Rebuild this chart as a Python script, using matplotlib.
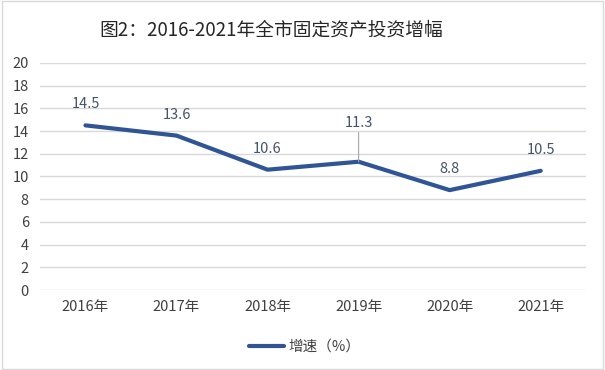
import matplotlib
matplotlib.use("Agg")
import matplotlib.pyplot as plt
from matplotlib.patches import Rectangle

plt.rcParams['font.family'] = ['Noto Sans CJK SC', 'DejaVu Sans']

years = ["2016年", "2017年", "2018年", "2019年", "2020年", "2021年"]
growth = [14.5, 13.6, 10.6, 11.3, 8.8, 10.5]
yticks = list(range(0, 22, 2))
title = "图2：2016-2021年全市固定资产投资增幅"
legend_label = "增速（%）"

fig = plt.figure(figsize=(6.05, 3.70), dpi=100)
ax = fig.add_axes([0.066, 0.216, 0.903, 0.614])

x = list(range(len(years)))
line_color = "#2F5597"
ax.plot(x, growth, color=line_color, lw=3, solid_capstyle="round", label=legend_label, zorder=3)

ax.set_xlim(-0.5, len(years) - 0.5)
ax.set_ylim(0, 20)
ax.set_yticks(yticks)
ax.set_xticks(x)
ax.set_xticklabels(years)
ax.tick_params(axis="both", length=0, labelsize=10.5, labelcolor="#404040")
ax.tick_params(axis="x", pad=7)
ax.tick_params(axis="y", pad=8)
ax.grid(axis="y", color="#D9D9D9", lw=1)
ax.set_axisbelow(True)
for s in ax.spines.values():
    s.set_visible(False)

label_color = "#44546A"
for i, v in enumerate(growth):
    if i == 3:
        ax.annotate(f"{v}", xy=(i, v), xytext=(0, 23), textcoords="offset points",
                    ha="center", va="bottom", fontsize=10.5, color=label_color,
                    arrowprops=dict(arrowstyle="-", color="#A6A6A6", lw=0.8, shrinkA=0, shrinkB=0))
    else:
        ax.annotate(f"{v}", xy=(i, v), xytext=(0, 10), textcoords="offset points",
                    ha="center", va="bottom", fontsize=10.5, color=label_color)

fig.text(0.448, 0.918, title, ha="center", va="center", fontsize=13.5, color="#262626")

leg = fig.legend(loc="center", bbox_to_anchor=(0.503, 0.062), frameon=False, fontsize=10.5,
                 handlelength=2.4, handletextpad=0.3)
for t in leg.get_texts():
    t.set_color("#404040")

fig.patches.append(Rectangle((0.003, 0.004), 0.994, 0.992, transform=fig.transFigure,
                             fill=False, edgecolor="#D9D9D9", lw=1))

fig.savefig("out.png", dpi=100)
